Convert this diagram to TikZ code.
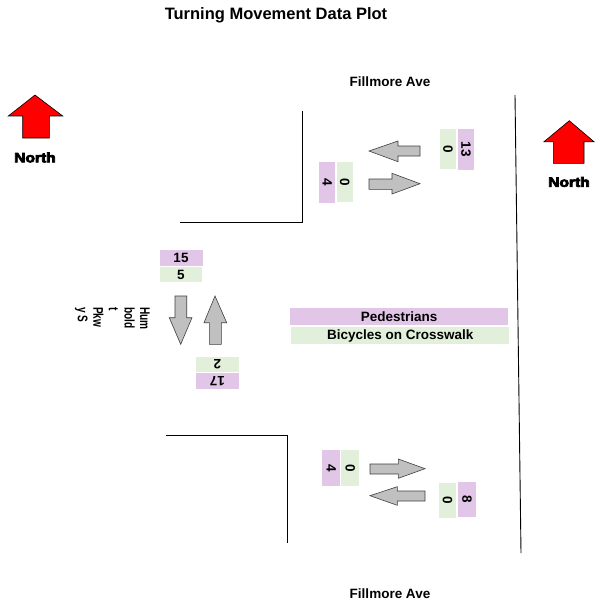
\documentclass[tikz,border=0pt]{standalone}
\usepackage{fontspec}
\setmainfont{Liberation Sans}
\newfontfamily\northfont{Liberation Sans}[UprightFeatures={FakeBold=5}, BoldFeatures={FakeBold=5}]
\definecolor{pur}{RGB}{225,198,232}
\definecolor{grn}{RGB}{226,239,218}
\definecolor{arrgray}{RGB}{192,192,192}
\begin{document}
\begin{tikzpicture}[x=1pt,y=-1pt,
  databox/.style={inner sep=0pt, font=\fontsize{13.5}{14}\selectfont\bfseries},
  purbox/.style={databox, fill=pur},
  grnbox/.style={databox, fill=grn},
  street/.style={line width=0.9pt, black},
  blockarrow/.style={draw=black!75, line width=0.6pt, fill=arrgray},
  northarrow/.style={draw=black, line width=0.6pt, fill=red},
  northlabel/.style={inner sep=0pt, xscale=1.15, font=\northfont\fontsize{13.5}{15}\selectfont\bfseries},
  streetlabel/.style={inner sep=0pt, anchor=base, font=\fontsize{13.5}{15}\selectfont\bfseries},
  titlelabel/.style={inner sep=0pt, anchor=base, font=\fontsize{16.5}{18}\selectfont\bfseries}]
\useasboundingbox (0,0) rectangle (597,607);
\fill[white] (0,0) rectangle (597,607);

% title and street names
\node[titlelabel] (title) at (276,20) {Turning Movement Data Plot};
\node[streetlabel] (fillmoreN) at (390,86.5) {Fillmore Ave};
\node[streetlabel] (fillmoreS) at (390,598) {Fillmore Ave};
\node[inner sep=0pt, anchor=north west, rotate=-90, xscale=0.72, align=left,
      font=\fontsize{14}{15.6}\selectfont\bfseries] (humboldt) at (150,307)
      {Hum\\bold\\t\\Pkw\\y S};

% north arrows
\draw[northarrow] (35,95) -- (62.7,116) -- (49.3,116) -- (49.3,138) -- (22.7,138) -- (22.7,116) -- (8.3,116) -- cycle;
\node[northlabel] (northL) at (35,157.5) {North};
\draw[northarrow] (569.3,120.7) -- (594,141.7) -- (584,141.7) -- (584,163.3) -- (553.3,163.3) -- (553.3,141.7) -- (544,141.7) -- cycle;
\node[northlabel] (northR) at (569,182) {North};

% street edges
\draw[street] (302,111) -- (302,222) -- (180,222);
\draw[street] (166,435) -- (287,435) -- (287,543);
\draw[street] (515,95) -- (521,553);

% north leg
\node[grnbox, rotate=-90, minimum width=40pt, minimum height=16pt] (nA) at (448,149) {0};
\node[purbox, rotate=-90, minimum width=41pt, minimum height=16.3pt] (nB) at (466,149.5) {13};
\node[purbox, rotate=-90, minimum width=41pt, minimum height=15.7pt] (nC) at (327.2,182.2) {4};
\node[grnbox, rotate=-90, minimum width=40pt, minimum height=16pt] (nD) at (344.7,182) {0};
\draw[blockarrow] (369,151) -- (398,141) -- (398,146) -- (420,146) -- (420,156) -- (398,156) -- (398,161.7) -- cycle;
\draw[blockarrow] (369,179) -- (392,179) -- (392,173.3) -- (420,183.7) -- (392,194) -- (392,189.3) -- (369,189.3) -- cycle;

% west leg
\node[purbox, minimum width=43pt, minimum height=15.7pt] (wA) at (181,258) {15};
\node[grnbox, minimum width=42pt, minimum height=14.5pt] (wB) at (181,274.5) {5};
\node[grnbox, rotate=180, minimum width=43.3pt, minimum height=15.6pt] (wC) at (217.4,364.5) {2};
\node[purbox, rotate=180, minimum width=43.3pt, minimum height=15.7pt] (wD) at (217.4,381.2) {17};
\draw[blockarrow] (175,296) -- (186.7,296) -- (186.7,317.7) -- (192,317.7) -- (180.7,344.3) -- (169.3,317.7) -- (175,317.7) -- cycle;
\draw[blockarrow] (215,296) -- (226.7,322.7) -- (221.3,322.7) -- (221.3,344.3) -- (209.3,344.3) -- (209.3,322.7) -- (204,322.7) -- cycle;

% legend
\node[purbox, minimum width=218pt, minimum height=16.7pt] (legP) at (399.2,316.7) {Pedestrians};
\node[grnbox, minimum width=218pt, minimum height=16.7pt] (legB) at (400.2,335.7) {Bicycles on Crosswalk};

% south leg
\node[purbox, rotate=-90, minimum width=35.7pt, minimum height=17.7pt] (sA) at (331.2,467.9) {4};
\node[grnbox, rotate=-90, minimum width=35.7pt, minimum height=18.3pt] (sB) at (350.2,467.9) {0};
\node[grnbox, rotate=-90, minimum width=35.6pt, minimum height=17pt] (sC) at (447.5,500.5) {0};
\node[purbox, rotate=-90, minimum width=35.6pt, minimum height=17.4pt] (sD) at (467,499.5) {8};
\draw[blockarrow] (370,464) -- (398.3,464) -- (398.3,459) -- (425,468.7) -- (398.3,478.3) -- (398.3,474) -- (370,474) -- cycle;
\draw[blockarrow] (370,495.7) -- (397.3,486.7) -- (397.3,491) -- (425,491) -- (425,501) -- (397.3,501) -- (397.3,505.3) -- cycle;
\end{tikzpicture}
\end{document}
